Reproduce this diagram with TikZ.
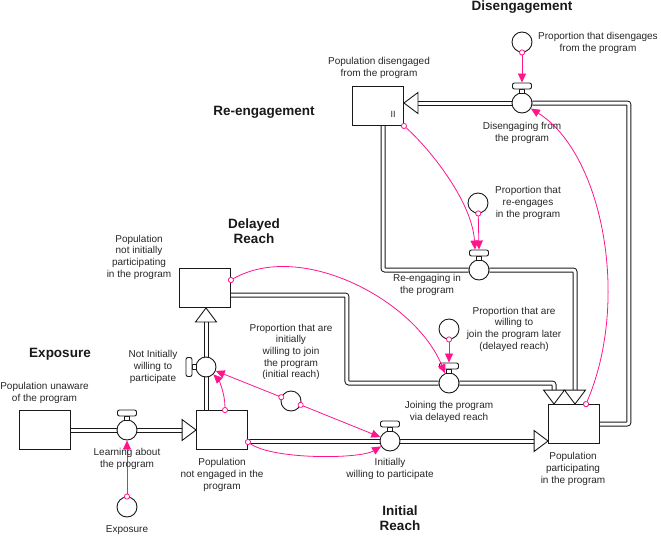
\documentclass[tikz,border=0pt]{standalone}
\usepackage{fontspec}
\setmainfont{Liberation Sans}
\usepackage{xcolor}
\definecolor{linkpink}{RGB}{255,20,140}
\usepackage{tikz}
\usetikzlibrary{arrows.meta, positioning, backgrounds}

\begin{document}
\begin{tikzpicture}[x=1pt, y=-1pt,
    stock/.style={rectangle, draw=black!90, line width=0.9pt, fill=white,
      minimum width=51pt, minimum height=39pt, inner sep=0pt},
    valve/.style={circle, draw=black!90, line width=0.9pt, fill=white,
      minimum size=20pt, inner sep=0pt},
    aux/.style={valve},
    pipe/.style={draw=white, line width=3pt, rounded corners=2pt,
      preaction={draw=black!90, line width=5pt}},
    link/.style={draw=linkpink, line width=0.8pt, shorten <=-3pt,
      arrows={Circle[length=6pt,fill=white]-Triangle[length=9pt,width=8pt]}},
    lbl/.style={align=center, inner sep=0pt, text=black!85,
      font=\fontsize{10}{11.7}\selectfont},
    ttl/.style={align=center, inner sep=0pt, text=black!90,
      font=\fontsize{13.5}{15}\selectfont\bfseries},
    valvecap/.pic={
      \draw[black!90, line width=0.9pt, fill=white] (-2.5,-10) rectangle (2.5,-14);
      \draw[black!90, line width=0.9pt, fill=white, rounded corners=2pt]
        (-9.5,-14) rectangle (9.5,-20);},
    pipetip/.pic={
      \draw[black!90, line width=0.9pt, fill=white, line join=miter]
        (0,0) -- (-14,-10.5) -- (-14,10.5) -- cycle;}
]
\useasboundingbox (0,0) rectangle (661,536);

\node[stock] (unaware) at (45,430) {};
\node[stock] (notengaged) at (222,430) {};
\node[stock] (notinit) at (205,288) {};
\node[stock] (disengaged) at (378,106) {};
\node[stock] (partic) at (574,424) {};
\node[lbl, font=\fontsize{9}{10}\selectfont] (disII) at (393,114) {II};

\node[valve] (learn) at (127,430) {};
\node[valve] (notwill) at (206,367) {};
\node[valve] (initwill) at (390,441) {};
\node[valve] (joindel) at (449,383) {};
\node[valve] (reeng) at (479,270) {};
\node[valve] (diseng) at (522,103) {};
\pic at (learn) {valvecap};
\pic[rotate=90] at (notwill) {valvecap};
\pic at (initwill) {valvecap};
\pic at (joindel) {valvecap};
\pic at (reeng) {valvecap};
\pic at (diseng) {valvecap};

\node[aux] (propdis) at (522,42) {};
\node[aux] (propre) at (478,203) {};
\node[aux] (propdel) at (449,329) {};
\node[aux] (propinit) at (291,401) {};
\node[aux] (expo) at (127,507) {};

\begin{scope}[on background layer]
\draw[pipe] (unaware) -- (learn);
\draw[pipe, shorten >=14pt] (learn) -- (notengaged.west |- learn);
\draw[pipe] (notengaged.north -| notwill) -- (notwill);
\draw[pipe, shorten >=14pt] (notwill) -- (notinit.south -| notwill);
\draw[pipe] (notengaged.east |- initwill) -- (initwill);
\draw[pipe, shorten >=14pt] (initwill) -- (partic.west |- initwill);
\draw[pipe] ([yshift=-7pt]notinit.east) -- ++(116,0) |- (joindel);
\draw[pipe, shorten >=14pt] (joindel) -| ([xshift=-20pt]partic.north);
\draw[pipe] ([xshift=5pt]disengaged.south) |- (reeng);
\draw[pipe, shorten >=14pt] (reeng) -| ([xshift=1pt]partic.north);
\draw[pipe] (partic.east) -- ++(29,0) |- (diseng);
\draw[pipe, shorten >=14pt] (diseng) -- (disengaged.east |- diseng);
\end{scope}
\pic at (notengaged.west |- learn) {pipetip};
\pic[rotate=90] at (notinit.south -| notwill) {pipetip};
\pic at (partic.west |- initwill) {pipetip};
\pic[rotate=-90] at ([xshift=-20pt]partic.north) {pipetip};
\pic[rotate=-90] at ([xshift=1pt]partic.north) {pipetip};
\pic[rotate=180] at (disengaged.east |- diseng) {pipetip};

\draw[link] (propdis) -- ([yshift=10pt]diseng.north);
\draw[link] ([xshift=12pt]partic.north) .. controls +(45,-105) and +(80,50) .. (diseng);
\draw[link] (disengaged.south east) .. controls +(22,19) and +(-3,-50) .. ([xshift=-4pt, yshift=10pt]reeng.north);
\draw[link] (propre) -- ([yshift=10pt]reeng.north);
\draw[link] ([yshift=8pt]notinit.east) .. controls +(70,-40) and +(-34,-83) .. (joindel);
\draw[link] (propdel) -- ([yshift=10pt]joindel.north);
\draw[link] ([xshift=3pt]notengaged.north) .. controls +(0,-18) and +(12,12) .. (notwill);
\draw[link] (propinit) -- (notwill);
\draw[link] (propinit) -- (initwill);
\draw[link] ([yshift=-12pt]notengaged.east) .. controls +(25,18) and +(-30,18) .. (initwill);
\draw[link] (expo) -- (learn);

\node[ttl] (ttlexpo) at (60,354) {Exposure};
\node[ttl] (ttldelay) at (254,231) {Delayed\\Reach};
\node[ttl] (ttlreeng) at (264,112) {Re-engagement};
\node[ttl] (ttldiseng) at (522,7) {Disengagement};
\node[ttl] (ttlinit) at (400,518) {Initial\\Reach};

\node[lbl] (lunaware) at (44.5,393) {Population unaware\\of the program};
\node[lbl] (llearn) at (127,459) {Learning about\\the program};
\node[lbl] (lexpo) at (127,530) {Exposure};
\node[lbl] (lnotengaged) at (222,475) {Population\\not engaged in the\\program};
\node[lbl] (lnotwill) at (153,367) {Not Initially\\willing to\\participate};
\node[lbl] (lnotinit) at (139,257) {Population\\not initially\\participating\\in the program};
\node[lbl] (lpropinit) at (291,352) {Proportion that are\\initially\\willing to join\\the program\\(initial reach)};
\node[lbl] (linitwill) at (390,469) {Initially\\willing to participate};
\node[lbl] (ljoindel) at (449,412) {Joining the program\\via delayed reach};
\node[lbl] (lpropdel) at (514,329) {Proportion that are\\willing to\\join the program later\\(delayed reach)};
\node[lbl] (lpartic) at (573,469) {Population\\participating\\in the program};
\node[lbl] (lreeng) at (427,285) {Re-engaging in\\the program};
\node[lbl] (lpropre) at (528,203) {Proportion that\\re-engages\\in the program};
\node[lbl] (ldiseng) at (522,133) {Disengaging from\\the program};
\node[lbl] (ldisengaged) at (379,68) {Population disengaged\\from the program};
\node[lbl] (lpropdis) at (598,43) {Proportion that disengages\\from the program};
\end{tikzpicture}
\end{document}
